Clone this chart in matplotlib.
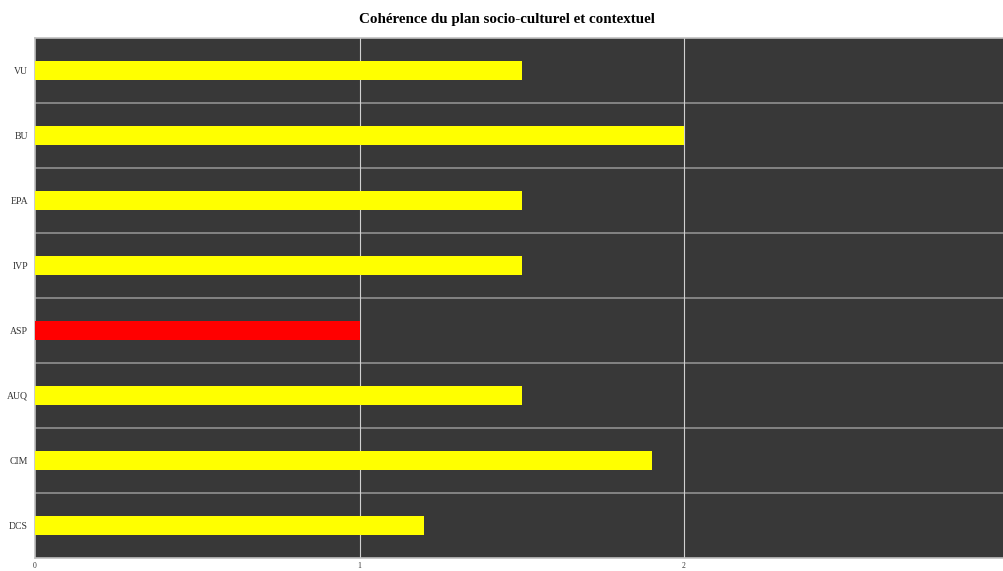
import matplotlib.pyplot as plt
import numpy as np

plt.rcParams['font.family'] = ['Liberation Serif', 'DejaVu Serif']

# données (de haut en bas)
categories = ['VU', 'BU', 'EPA', 'IVP', 'ASP', 'AUQ', 'CIM', 'DCS']
scores = [1.5, 2.0, 1.5, 1.5, 1.0, 1.5, 1.9, 1.2]
bar_colors = ['#FFFF00', '#FFFF00', '#FFFF00', '#FFFF00', '#FF0000', '#FFFF00', '#FFFF00', '#FFFF00']
x_ticks = [0, 1, 2]

W, H = 1004, 571
fig = plt.figure(figsize=(W / 100, H / 100), dpi=100)
ax = fig.add_axes([35 / W, 13 / H, 973.5 / W, 520 / H])
ax.set_facecolor('#383838')

n = len(categories)
y = np.arange(n)[::-1]
ax.barh(y, scores, height=0.28, color=bar_colors, zorder=3)

ax.set_xlim(0, 3)
ax.set_ylim(-0.5, n - 0.5)

# séparateurs horizontaux entre catégories
for b in np.arange(0.5, n - 0.5, 1):
    ax.axhline(b, color='#909090', linewidth=1.2, zorder=2)
for t in x_ticks[1:]:
    ax.axvline(t, color='#d0d0d0', linewidth=0.8, zorder=2)

ax.set_yticks(y)
ax.set_yticklabels(categories, fontsize=7, color='#333333')
ax.set_xticks(x_ticks)
ax.set_xticklabels([str(t) for t in x_ticks], fontsize=5.5, color='#333333')
ax.tick_params(length=0, pad=5)
ax.tick_params(axis='x', pad=3)

for side in ['top', 'bottom', 'left']:
    ax.spines[side].set_color('#c0c0c0')
    ax.spines[side].set_linewidth(1.2)
ax.spines['right'].set_visible(False)

fig.text(507 / W, 1 - 19 / H, 'Cohérence du plan socio-culturel et contextuel',
         ha='center', va='center', fontsize=10.8, fontweight='bold')

fig.savefig('out.png', dpi=100)
